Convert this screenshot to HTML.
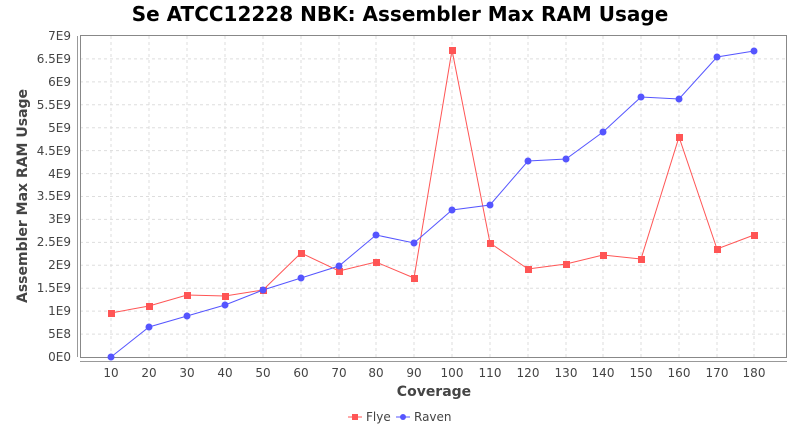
<!DOCTYPE html>
<html><head><style>body{margin:0;background:#fff}svg{display:block}text{font-family:"DejaVu Sans","Liberation Sans",sans-serif}</style></head><body>
<svg width="800" height="430" xmlns="http://www.w3.org/2000/svg">
<rect width="800" height="430" fill="#fff"/>
<text x="400" y="21" text-anchor="middle" font-size="20" font-weight="bold" fill="#000">Se ATCC12228 NBK: Assembler Max RAM Usage</text>
<g stroke="#ddd" stroke-dasharray="3,3" stroke-width="1">
<line x1="80" x2="787" y1="334.1" y2="334.1"/><line x1="80" x2="787" y1="311.1" y2="311.1"/><line x1="80" x2="787" y1="288.2" y2="288.2"/><line x1="80" x2="787" y1="265.3" y2="265.3"/><line x1="80" x2="787" y1="242.4" y2="242.4"/><line x1="80" x2="787" y1="219.4" y2="219.4"/><line x1="80" x2="787" y1="196.5" y2="196.5"/><line x1="80" x2="787" y1="173.6" y2="173.6"/><line x1="80" x2="787" y1="150.6" y2="150.6"/><line x1="80" x2="787" y1="127.7" y2="127.7"/><line x1="80" x2="787" y1="104.8" y2="104.8"/><line x1="80" x2="787" y1="81.9" y2="81.9"/><line x1="80" x2="787" y1="58.9" y2="58.9"/>
<line y1="36" y2="357" x1="111" x2="111"/><line y1="36" y2="357" x1="149" x2="149"/><line y1="36" y2="357" x1="187" x2="187"/><line y1="36" y2="357" x1="225" x2="225"/><line y1="36" y2="357" x1="263" x2="263"/><line y1="36" y2="357" x1="301" x2="301"/><line y1="36" y2="357" x1="339" x2="339"/><line y1="36" y2="357" x1="376" x2="376"/><line y1="36" y2="357" x1="414" x2="414"/><line y1="36" y2="357" x1="452" x2="452"/><line y1="36" y2="357" x1="490" x2="490"/><line y1="36" y2="357" x1="528" x2="528"/><line y1="36" y2="357" x1="566" x2="566"/><line y1="36" y2="357" x1="603" x2="603"/><line y1="36" y2="357" x1="641" x2="641"/><line y1="36" y2="357" x1="679" x2="679"/><line y1="36" y2="357" x1="717" x2="717"/><line y1="36" y2="357" x1="754" x2="754"/>
</g>
<rect x="80.5" y="35.5" width="706" height="322" fill="none" stroke="#888"/>
<line x1="77.5" y1="36" x2="77.5" y2="357" stroke="#999"/>
<line x1="80" y1="361.5" x2="787" y2="361.5" stroke="#999"/>
<g font-size="12" fill="#444" text-anchor="end">
<text x="71" y="361">0E0</text><text x="71" y="338">5E8</text><text x="71" y="315">1E9</text><text x="71" y="292">1.5E9</text><text x="71" y="269">2E9</text><text x="71" y="246">2.5E9</text><text x="71" y="223">3E9</text><text x="71" y="200">3.5E9</text><text x="71" y="178">4E9</text><text x="71" y="155">4.5E9</text><text x="71" y="132">5E9</text><text x="71" y="109">5.5E9</text><text x="71" y="86">6E9</text><text x="71" y="63">6.5E9</text><text x="71" y="40">7E9</text>
</g>
<g font-size="12" fill="#444" text-anchor="middle">
<text x="111" y="377">10</text><text x="149" y="377">20</text><text x="187" y="377">30</text><text x="225" y="377">40</text><text x="263" y="377">50</text><text x="301" y="377">60</text><text x="339" y="377">70</text><text x="376" y="377">80</text><text x="414" y="377">90</text><text x="452" y="377">100</text><text x="490" y="377">110</text><text x="528" y="377">120</text><text x="566" y="377">130</text><text x="603" y="377">140</text><text x="641" y="377">150</text><text x="679" y="377">160</text><text x="717" y="377">170</text><text x="754" y="377">180</text>
</g>
<text x="434" y="396" text-anchor="middle" font-size="14" font-weight="bold" fill="#444">Coverage</text>
<text transform="translate(27,196) rotate(-90)" text-anchor="middle" font-size="14" font-weight="bold" fill="#444">Assembler Max RAM Usage</text>
<polyline fill="none" stroke="#ff5555" stroke-width="1" points="111,313 149,306 187,295 225,296 263,290 301,253 339,271 376,262 414,278 452,50 490,243 528,269 566,264 603,255 641,259 679,137 717,249 754,235"/>
<g fill="#ff5555">
<rect x="108" y="310" width="7" height="7"/><rect x="146" y="303" width="7" height="7"/><rect x="184" y="292" width="7" height="7"/><rect x="222" y="293" width="7" height="7"/><rect x="260" y="287" width="7" height="7"/><rect x="298" y="250" width="7" height="7"/><rect x="336" y="268" width="7" height="7"/><rect x="373" y="259" width="7" height="7"/><rect x="411" y="275" width="7" height="7"/><rect x="449" y="47" width="7" height="7"/><rect x="487" y="240" width="7" height="7"/><rect x="525" y="266" width="7" height="7"/><rect x="563" y="261" width="7" height="7"/><rect x="600" y="252" width="7" height="7"/><rect x="638" y="256" width="7" height="7"/><rect x="676" y="134" width="7" height="7"/><rect x="714" y="246" width="7" height="7"/><rect x="751" y="232" width="7" height="7"/>
</g>
<polyline fill="none" stroke="#5555ff" stroke-width="1" points="111,357 149,327 187,316 225,305 263,290 301,278 339,266 376,235 414,243 452,210 490,205 528,161 566,159 603,132 641,97 679,99 717,57 754,51"/>
<g fill="#5555ff">
<circle cx="111" cy="357" r="3.5"/><circle cx="149" cy="327" r="3.5"/><circle cx="187" cy="316" r="3.5"/><circle cx="225" cy="305" r="3.5"/><circle cx="263" cy="290" r="3.5"/><circle cx="301" cy="278" r="3.5"/><circle cx="339" cy="266" r="3.5"/><circle cx="376" cy="235" r="3.5"/><circle cx="414" cy="243" r="3.5"/><circle cx="452" cy="210" r="3.5"/><circle cx="490" cy="205" r="3.5"/><circle cx="528" cy="161" r="3.5"/><circle cx="566" cy="159" r="3.5"/><circle cx="603" cy="132" r="3.5"/><circle cx="641" cy="97" r="3.5"/><circle cx="679" cy="99" r="3.5"/><circle cx="717" cy="57" r="3.5"/><circle cx="754" cy="51" r="3.5"/>
</g>
<line x1="348" y1="417" x2="362" y2="417" stroke="#ff5555"/><rect x="352" y="414" width="6" height="6" fill="#ff5555"/>
<text x="366" y="421" font-size="12" fill="#444">Flye</text>
<line x1="396" y1="417" x2="410" y2="417" stroke="#5555ff"/><circle cx="403" cy="417" r="3" fill="#5555ff"/>
<text x="414" y="421" font-size="12" fill="#444">Raven</text>
</svg>
</body></html>
